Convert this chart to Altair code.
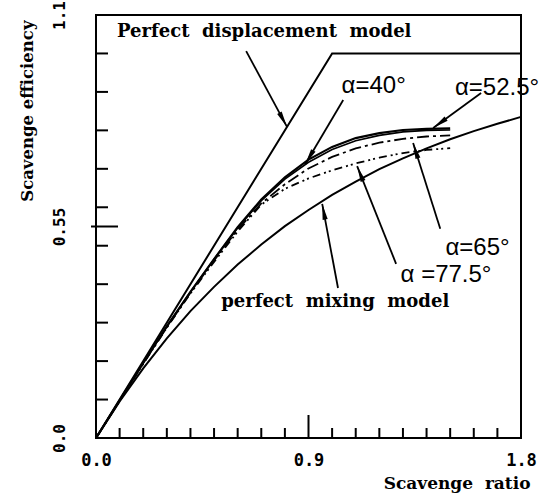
import math
import altair as alt
import pandas as pd

# ---------------- data ----------------
disp_x = [0.0, 1.0, 1.8]
disp_y = [0.0, 1.0, 1.0]

mix_x = [0.0, 0.1, 0.2, 0.3, 0.4, 0.5, 0.6, 0.7, 0.8, 0.9, 1.0, 1.1, 1.2, 1.3, 1.4, 1.5, 1.6, 1.7, 1.8]
mix_y = [0.0, 0.095, 0.181, 0.259, 0.330, 0.393, 0.451, 0.503, 0.551, 0.593, 0.632, 0.667, 0.699, 0.727,
         0.753, 0.777, 0.798, 0.817, 0.835]

alpha_x = [0.0, 0.1, 0.2, 0.3, 0.4, 0.5, 0.6, 0.7, 0.8, 0.9, 1.0, 1.1, 1.2, 1.3, 1.4, 1.5]
a40_y = [0.0, 0.098, 0.195, 0.290, 0.380, 0.465, 0.548, 0.620, 0.678, 0.724, 0.757, 0.780, 0.793, 0.801, 0.804, 0.805]
a52_y = [0.0, 0.098, 0.195, 0.290, 0.380, 0.465, 0.547, 0.617, 0.673, 0.717, 0.750, 0.773, 0.787, 0.796, 0.800, 0.801]
a65_y = [0.0, 0.097, 0.194, 0.288, 0.378, 0.462, 0.542, 0.610, 0.660, 0.701, 0.731, 0.753, 0.768, 0.778, 0.784, 0.787]
a77_y = [0.0, 0.097, 0.193, 0.287, 0.376, 0.458, 0.537, 0.607, 0.648, 0.675, 0.696, 0.714, 0.729, 0.741, 0.749, 0.754]

x_minor_ticks = [0.1, 0.2, 0.3, 0.4, 0.5, 0.6, 0.7, 0.8, 1.0, 1.1, 1.2, 1.3, 1.4, 1.5, 1.6, 1.7]
x_major_ticks = [0.9]
y_minor_ticks = [0.1, 0.2, 0.3, 0.4, 0.5, 0.6, 0.7, 0.8, 0.9, 1.0]
y_major_ticks = [0.55]
x_labels = [0.0, 0.9, 1.8]
y_labels = [0.0, 0.55, 1.1]

# annotations: text, x, y
NB = "\u00a0"
ann_serif_text = ["Perfect" + NB + " displacement" + NB + " model", "perfect" + NB + " mixing" + NB + " model"]
ann_serif_x = [0.089, 0.53]
ann_serif_y = [1.043, 0.341]

ann_alpha_text = ["α=40°", "α=52.5°", "α=65°", "α =77.5°"]
ann_alpha_x = [1.04, 1.52, 1.48, 1.29]
ann_alpha_y = [0.897, 0.892, 0.476, 0.406]

# arrows: start -> tip
arr_x0 = [0.636, 1.047, 1.631, 1.458, 1.271, 1.025]
arr_y0 = [1.006, 0.879, 0.897, 0.544, 0.453, 0.390]
arr_x1 = [0.809, 0.886, 1.428, 1.343, 1.106, 0.958]
arr_y1 = [0.809, 0.712, 0.806, 0.767, 0.707, 0.609]

# ---------------- chart ----------------
W, H = 425, 423
XD, YD = [0, 1.8], [0, 1.1]
sx, sy = W / (XD[1] - XD[0]), H / (YD[1] - YD[0])

xs = alt.Scale(domain=XD, nice=False, zero=False)
ys = alt.Scale(domain=YD, nice=False, zero=False)

AX_FONT = "DejaVu Sans Mono"

x_axis = alt.Axis(values=x_labels, format=".1f", ticks=False, domain=False, grid=False,
                  labelFont=AX_FONT, labelFontWeight="bold", labelFontSize=17, labelColor="black",
                  labelPadding=14, labelFlush=False,
                  title="Scavenge" + NB + " ratio", titleFont="DejaVu Serif", titleFontWeight="bold",
                  titleFontSize=17, titleColor="black", titleX=434, titleY=45,
                  titleAlign="right", titleBaseline="middle", titleAnchor="end")
y_axis = alt.Axis(values=y_labels, labelExpr="datum.value == 0.55 ? '0.55' : format(datum.value, '.1f')",
                  ticks=False, domain=False, grid=False,
                  labelFont=AX_FONT, labelFontWeight="bold", labelFontSize=16, labelColor="black",
                  labelAngle=270, labelAlign="center", labelBaseline="bottom", labelPadding=29,
                  labelFlush=False,
                  title="Scavenge efficiency", titleFont="DejaVu Serif", titleFontWeight="bold",
                  titleFontSize=16.5, titleColor="black", titleAngle=270, titleX=-69, titleY=5,
                  titleAlign="right", titleBaseline="middle", titleAnchor="end")


def X(field):
    return alt.X(field, scale=xs, axis=x_axis)


def Y(field):
    return alt.Y(field, scale=ys, axis=y_axis)


def line_layer(xv, yv, dash=None, width=2.0):
    df = pd.DataFrame({"x": xv, "y": yv})
    kw = dict(color="black", strokeWidth=width)
    if dash:
        kw["strokeDash"] = dash
    return alt.Chart(df).mark_line(**kw).encode(x=X("x:Q"), y=Y("y:Q"))


layers = [
    line_layer(disp_x, disp_y, width=2.0),
    line_layer(mix_x, mix_y),
    line_layer(alpha_x, a40_y, width=2.2),
    line_layer(alpha_x, a52_y, width=1.6),
    line_layer(alpha_x, a65_y, dash=[12, 4, 3, 4], width=1.8),
    line_layer(alpha_x, a77_y, dash=[8, 4, 2, 3, 2, 4], width=1.8),
]


# inward ticks
def xtick_layer(vals, length):
    return alt.Chart(pd.DataFrame({"x": vals})).mark_rule(color="black", strokeWidth=2).encode(
        x=X("x:Q"), y=alt.value(H), y2=alt.value(H - length))


def ytick_layer(vals, start, end):
    return alt.Chart(pd.DataFrame({"y": vals})).mark_rule(color="black", strokeWidth=2).encode(
        y=Y("y:Q"), x=alt.value(start), x2=alt.value(end))


layers.append(xtick_layer(x_minor_ticks, 10))
layers.append(xtick_layer(x_major_ticks, 23))
layers.append(ytick_layer(y_minor_ticks, 0, 12))
layers.append(ytick_layer(y_major_ticks, -5, 22))

# arrows
ang = []
for a, b, c, d in zip(arr_x0, arr_y0, arr_x1, arr_y1):
    dx = (c - a) * sx
    dy = -(d - b) * sy
    ang.append(math.degrees(math.atan2(dx, -dy)) % 360)
arr_df = pd.DataFrame({"x0": arr_x0, "y0": arr_y0, "x1": arr_x1, "y1": arr_y1, "ang": ang})
layers.append(alt.Chart(arr_df).mark_rule(color="black", strokeWidth=1.8).encode(
    x=X("x0:Q"), y=Y("y0:Q"), x2="x1:Q", y2="y1:Q"))
layers.append(alt.Chart(arr_df).mark_point(
    shape="M0,0L0.32,2L-0.32,2Z", filled=True, color="black", opacity=1, size=256).encode(
    x=X("x1:Q"), y=Y("y1:Q"), angle=alt.Angle("ang:Q", scale=None)))

# texts
serif_df = pd.DataFrame({"t": ann_serif_text, "x": ann_serif_x, "y": ann_serif_y})
layers.append(alt.Chart(serif_df).mark_text(
    font="DejaVu Serif", fontWeight="bold", fontSize=18, align="left", baseline="alphabetic",
    color="black").encode(x=X("x:Q"), y=Y("y:Q"), text="t:N"))

alpha_df = pd.DataFrame({"t": ann_alpha_text, "x": ann_alpha_x, "y": ann_alpha_y})
layers.append(alt.Chart(alpha_df).mark_text(
    font="Liberation Sans", fontSize=24, align="left", baseline="alphabetic",
    color="black").encode(x=X("x:Q"), y=Y("y:Q"), text="t:N"))

chart = alt.layer(*layers).properties(
    width=W, height=H,
    autosize=alt.AutoSizeParams(type="none"),
    padding={"left": 96, "top": 15, "right": 30, "bottom": 56},
    background="white",
).configure_view(stroke="black", strokeWidth=2)

chart.save("out.html", embed_options={"renderer": "svg", "actions": False})
